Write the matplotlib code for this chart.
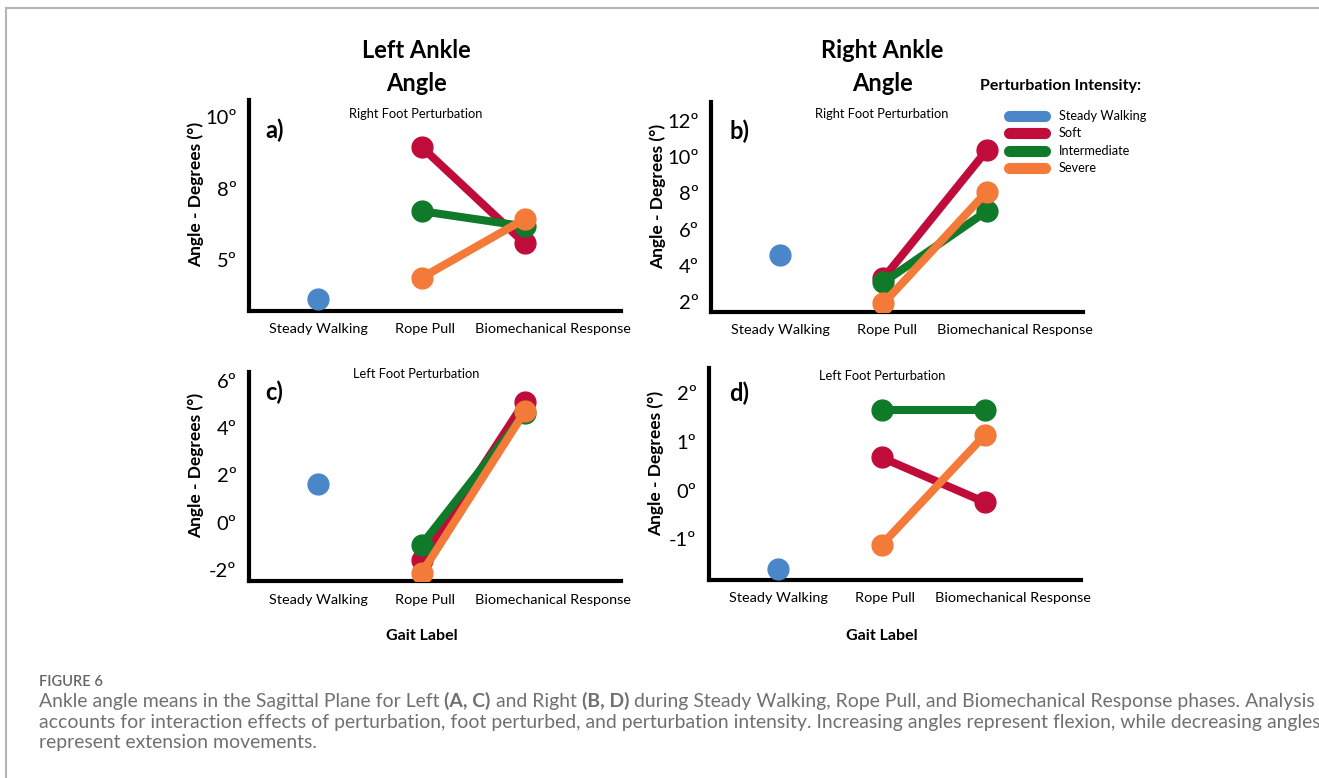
import matplotlib
matplotlib.use("Agg")
import matplotlib.pyplot as plt
from matplotlib.lines import Line2D

plt.rcParams['font.family'] = ['Lato', 'DejaVu Sans']

# gait phases and intensities
phases = ["Steady Walking", "Rope Pull", "Biomechanical Response"]
intensities = ["Steady Walking", "Soft", "Intermediate", "Severe"]
colors = ["#4a86c8", "#c00c3a", "#0f7a2a", "#f47a3a"]

# a) left ankle, right foot perturbation
a_steady = 3.63
a_soft = [8.96, 5.58]
a_inter = [6.71, 6.18]
a_severe = [4.38, 6.44]
a_ticks = [5, 7.5, 10]
a_ticklabels = ["5º", "8º", "10º"]

# b) right ankle, right foot perturbation
b_steady = 4.56
b_soft = [3.3, 10.4]
b_inter = [3.07, 7.02]
b_severe = [1.9, 8.1]
b_ticks = [2, 4, 6, 8, 10, 12]
b_ticklabels = ["2º", "4º", "6º", "8º", "10º", "12º"]

# c) left ankle, left foot perturbation
c_steady = 1.65
c_soft = [-1.58, 5.12]
c_inter = [-0.94, 4.63]
c_severe = [-2.14, 4.7]
c_ticks = [-2, 0, 2, 4, 6]
c_ticklabels = ["-2º", "0º", "2º", "4º", "6º"]

# d) right ankle, left foot perturbation
d_steady = -1.62
d_soft = [0.68, -0.24]
d_inter = [1.66, 1.66]
d_severe = [-1.12, 1.14]
d_ticks = [-1, 0, 1, 2]
d_ticklabels = ["-1º", "0º", "1º", "2º"]

W, H = 1319, 778
fig = plt.figure(figsize=(W / 100, H / 100), dpi=100)

# frame of the figure card
fig.add_artist(Line2D([6 / W, 6 / W], [0, 1 - 8 / H], color="#b5b5b5", lw=1.5))
fig.add_artist(Line2D([6 / W, 1], [1 - 8 / H, 1 - 8 / H], color="#b5b5b5", lw=1.5))

panels = [
    ([0.1888, 0.6003, 0.282, 0.2712], a_steady, a_soft, a_inter, a_severe,
     a_ticks, a_ticklabels, (3.22, 10.6), "a)", "Right Foot Perturbation", (0.449, 0.934), (0.043, 0.855)),
    ([0.539, 0.5994, 0.282, 0.2700], b_steady, b_soft, b_inter, b_severe,
     b_ticks, b_ticklabels, (1.44, 13.1), "b)", "Right Foot Perturbation", (0.46, 0.941), (0.050, 0.857)),
    ([0.1888, 0.2532, 0.282, 0.2690], c_steady, c_soft, c_inter, c_severe,
     c_ticks, c_ticklabels, (-2.47, 6.38), "c)", "Left Foot Perturbation", (0.449, 0.989), (0.043, 0.900)),
    ([0.5375, 0.2545, 0.282, 0.2725], d_steady, d_soft, d_inter, d_severe,
     d_ticks, d_ticklabels, (-1.84, 2.52), "d)", "Left Foot Perturbation", (0.465, 0.962), (0.055, 0.880)),
]

ms = 15
lw = 5.8
for rect, steady, soft, inter, severe, ticks, ticklabels, ylim, letter, sub, subpos, letpos in panels:
    ax = fig.add_axes(rect)
    ax.plot([0], [steady], "o", color=colors[0], ms=ms, zorder=3)
    for vals, col in zip([soft, inter, severe], colors[1:]):
        ax.plot([1, 2], vals, "-o", color=col, ms=ms, lw=lw, zorder=3,
                solid_capstyle="round")
    ax.set_xlim(-0.67, 2.93)
    ax.set_ylim(*ylim)
    ax.set_yticks(ticks)
    ax.set_yticklabels(ticklabels, fontsize=14.5)
    ax.set_xticks([0, 1.03, 2.27])
    ax.set_xticklabels(phases, fontsize=10.4)
    ax.tick_params(length=0)
    ax.tick_params(axis="x", pad=9)
    ax.tick_params(axis="y", pad=9)
    for s in ["top", "right"]:
        ax.spines[s].set_visible(False)
    for s in ["left", "bottom"]:
        ax.spines[s].set_linewidth(3)
    ax.set_ylabel("Angle - Degrees (°)", fontsize=12.5, fontweight="bold")
    ax.yaxis.set_label_coords(-0.12, 0.55)
    ax.text(subpos[0], subpos[1], sub, transform=ax.transAxes, fontsize=9.3,
            ha="center", va="center")
    ax.text(letpos[0], letpos[1], letter, transform=ax.transAxes, fontsize=17,
            fontweight="bold", ha="left", va="center")

fig.text(421.5 / W, 1 - 636 / H, "Gait Label", fontsize=11.5, fontweight="bold",
         ha="center", va="center")
fig.text(882 / W, 1 - 636 / H, "Gait Label", fontsize=11.5, fontweight="bold",
         ha="center", va="center")

fig.text(416 / W, 1 - 67 / H, "Left Ankle\nAngle", fontsize=17, fontweight="bold",
         ha="center", va="center", linespacing=1.5)
fig.text(882 / W, 1 - 67 / H, "Right Ankle\nAngle", fontsize=17, fontweight="bold",
         ha="center", va="center", linespacing=1.5)

# legend
fig.text(980 / W, 1 - 86 / H, "Perturbation Intensity:", fontsize=11.5,
         fontweight="bold", ha="left", va="center")
for i, (lab, col) in enumerate(zip(intensities, colors)):
    y = 1 - (115.5 + 17.6 * i) / H
    fig.add_artist(Line2D([1009 / W, 1045 / W], [y, y], color=col, lw=8,
                          solid_capstyle="round"))
    fig.text(1059 / W, y, lab, fontsize=9.2, ha="left", va="center")

# caption
grey = "#707070"
fig.text(39 / W, 1 - 682 / H, "FIGURE 6", fontsize=10.5, color="#666666",
         fontweight="semibold", ha="left", va="center")

line1 = [("Ankle angle means in the Sagittal Plane for Left ", False), ("(A, C)", True),
         (" and Right ", False), ("(B, D)", True),
         (" during Steady Walking, Rope Pull, and Biomechanical Response phases. Analysis", False)]
line2 = [("accounts for interaction effects of perturbation, foot perturbed, and perturbation "
          "intensity. Increasing angles represent flexion, while decreasing angles", False)]
line3 = [("represent extension movements.", False)]

renderer = fig.canvas.get_renderer()


def line_width(parts, size):
    total = 0
    for txt, bold in parts:
        t = fig.text(0, 0, txt, fontsize=size, fontweight="bold" if bold else "normal")
        total += t.get_window_extent(renderer=renderer).width
        t.remove()
    return total


cap_size = 13 * 1271 / line_width(line1, 13)


def draw_line(parts, y):
    x = 39
    for txt, bold in parts:
        t = fig.text(x / W, 1 - y / H, txt, fontsize=cap_size, color=grey,
                     fontweight="bold" if bold else "normal", ha="left", va="baseline")
        x += t.get_window_extent(renderer=renderer).width


draw_line(line1, 707)
draw_line(line2, 728)
draw_line(line3, 748)

fig.savefig("out.png", dpi=100)
